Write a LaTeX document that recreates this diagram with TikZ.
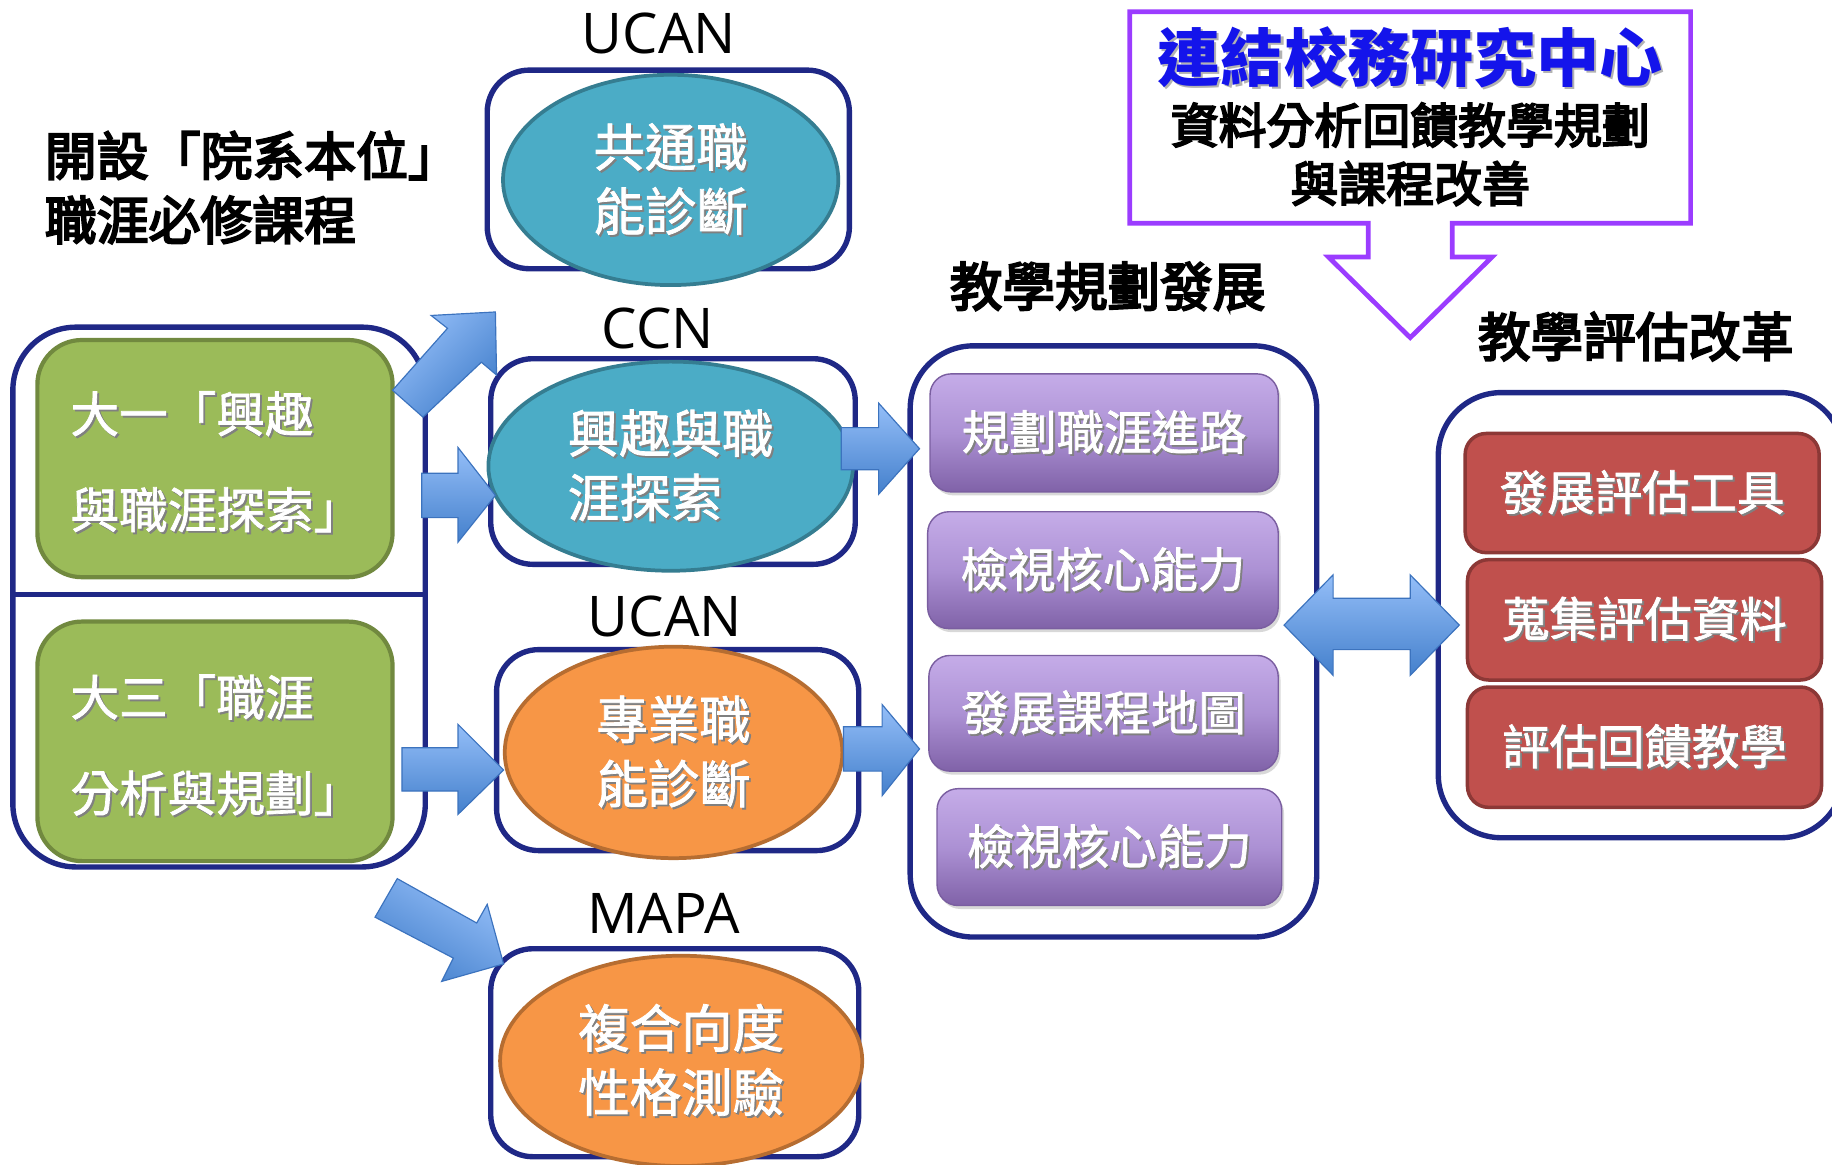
\documentclass[tikz,border=0pt]{standalone}
\usepackage{fontspec}
\setmainfont{Noto Sans CJK TC}
\newfontfamily\latinfont{Open Sans}
\newfontfamily\headfont[FakeBold=4]{Noto Sans CJK TC}
\newfontfamily\medfont[FakeBold=1.5]{Noto Sans CJK TC}
\usetikzlibrary{shapes.geometric,shadows}
\definecolor{navy}{RGB}{31,40,134}
\definecolor{tealfill}{RGB}{75,172,198}
\definecolor{tealedge}{RGB}{53,125,145}
\definecolor{orangefill}{RGB}{247,150,70}
\definecolor{orangeedge}{RGB}{182,109,49}
\definecolor{greenfill}{RGB}{155,187,89}
\definecolor{greenedge}{RGB}{113,137,63}
\definecolor{purptop}{RGB}{197,172,232}
\definecolor{purpmid}{RGB}{172,145,212}
\definecolor{purpbot}{RGB}{128,98,168}
\definecolor{purpedge}{RGB}{122,94,160}
\definecolor{redfill}{RGB}{192,80,77}
\definecolor{rededge}{RGB}{140,56,54}
\definecolor{arrlight}{RGB}{148,190,248}
\definecolor{arrdark}{RGB}{68,128,204}
\definecolor{arredge}{RGB}{60,115,190}
\definecolor{callpurple}{RGB}{155,60,255}
\definecolor{titleblue}{RGB}{20,20,235}
\newcommand\shd[1]{\leavevmode\rlap{\kern0.8pt\raisebox{-0.8pt}{\textcolor{black!50}{#1}}}#1}
\newcommand\shdl[1]{\leavevmode\rlap{\kern0.9pt\raisebox{-0.9pt}{\textcolor{black!30}{#1}}}#1}
\begin{document}
\begin{tikzpicture}[x=0.5pt,y=-0.5pt,
  navybox/.style={draw=navy, line width=2.3pt, fill=white, rounded corners=18pt, inner sep=0pt},
  bignavy/.style={navybox, rounded corners=27pt},
  tealell/.style={ellipse, draw=tealedge, fill=tealfill, line width=1.6pt, inner sep=0pt,
    text=white, font=\medfont\fontsize{22}{27.5}\selectfont},
  orangeell/.style={ellipse, draw=orangeedge, fill=orangefill, line width=1.6pt, inner sep=0pt,
    text=white, font=\medfont\fontsize{22}{27.5}\selectfont},
  greenbox/.style={draw=greenedge, fill=greenfill, line width=1.8pt, rounded corners=19pt},
  greentxt/.style={anchor=west, align=left, text=white, inner sep=0pt,
    font=\medfont\fontsize{20.8}{41}\selectfont},
  purpbox/.style={draw=purpedge, line width=0.6pt, top color=purptop, bottom color=purpbot,
    middle color=purpmid, rounded corners=9pt, text=white, font=\medfont\fontsize{20.3}{24}\selectfont,
    drop shadow={opacity=0.3, shadow xshift=1pt, shadow yshift=-1.5pt}},
  redbox/.style={draw=rededge, fill=redfill, line width=1.5pt, rounded corners=9pt,
    text=white, font=\medfont\fontsize{20.3}{24}\selectfont},
  blk/.style={draw=arredge, line width=0.5pt, top color=arrlight, bottom color=arrdark},
  latinlbl/.style={anchor=base, font=\latinfont\fontsize{24}{28}\selectfont},
  heading/.style={font=\headfont\fontsize{22.5}{27}\selectfont}
]
\useasboundingbox (0,0) rectangle (1568,997);
\clip (0,0) rectangle (1568,997);

% ---------- left group ----------
\node[bignavy, minimum width=176.5pt, minimum height=231pt] (leftbox) at (187.5,511) {};
\draw[navy, line width=2.3pt] (11,509) -- (364,509);
\node[greenbox, minimum width=152pt, minimum height=101.5pt] (green1) at (184,392.5) {};
\node[greenbox, minimum width=152pt, minimum height=102.5pt] (green2) at (184,634.5) {};
\node[greentxt] (g1txt) at (60,396) {\shd{大一「興趣}\\\shd{與職涯探索」}};
\node[greentxt] (g2txt) at (60,638.5) {\shd{大三「職涯}\\\shd{分析與規劃」}};

\node[anchor=west, align=left, inner sep=0pt, font=\headfont\fontsize{22.2}{27.5}\selectfont]
  (course) at (38,160.5) {開設「院系本位」\\職涯必修課程};

% ---------- assessment column ----------
\node[latinlbl] (lucan1) at (564,46) {UCAN};
\node[navybox, minimum width=155pt, minimum height=85pt] (u1box) at (572,145) {};
\node[tealell, minimum width=143.5pt, minimum height=90pt, align=center] (ell1) at (574,154) {\shd{共通職}\\\shd{能診斷}};

\node[latinlbl] (lccn) at (563,298) {CCN};
\node[navybox, minimum width=156pt, minimum height=88pt] (ccnbox) at (576,395) {};
\node[tealell, minimum width=156pt, minimum height=89.5pt, align=left] (ell2) at (574,399) {\shd{興趣與職}\\\shd{涯探索}};

\node[latinlbl] (lucan2) at (569,545) {UCAN};
\node[navybox, minimum width=155pt, minimum height=86pt] (u2box) at (580,642) {};
\node[orangeell, minimum width=144.5pt, minimum height=90.5pt, align=center] (ell3) at (576.5,644) {\shd{專業職}\\\shd{能診斷}};

\node[latinlbl] (lmapa) at (568,799) {MAPA};
\node[navybox, minimum width=157.5pt, minimum height=89pt] (mapabox) at (577.5,901) {};
\node[orangeell, minimum width=155pt, minimum height=90pt, align=center] (ell4) at (583,908) {\shd{複合向度}\\\shd{性格測驗}};

% ---------- middle group ----------
\node[heading] (hmid) at (948,245) {教學規劃發展};
\node[bignavy, minimum width=174pt, minimum height=253pt] (midbox) at (953,549) {};
\node[purpbox, minimum width=149pt, minimum height=50.5pt] (p1) at (945,370.5) {\shd{規劃職涯進路}};
\node[purpbox, minimum width=150pt, minimum height=50pt] (p2) at (944,488) {\shd{檢視核心能力}};
\node[purpbox, minimum width=149.5pt, minimum height=49.5pt] (p3) at (944.5,610.5) {\shd{發展課程地圖}};
\node[purpbox, minimum width=147.5pt, minimum height=50pt] (p4) at (949.5,725) {\shd{檢視核心能力}};

% ---------- right group ----------
\node[heading] (hright) at (1400,288) {教學評估改革};
\node[bignavy, minimum width=173.5pt, minimum height=190.5pt] (rightbox) at (1404.5,526.5) {};
\node[redbox, minimum width=151.5pt, minimum height=51pt] (r1) at (1405.5,422) {\shd{發展評估工具}};
\node[redbox, minimum width=151.5pt, minimum height=51.5pt] (r2) at (1407.5,530.5) {\shd{蒐集評估資料}};
\node[redbox, minimum width=151.5pt, minimum height=51.5pt] (r3) at (1407.5,639.5) {\shd{評估回饋教學}};

% ---------- callout ----------
\draw[callpurple, line width=2pt, fill=white]
  (967,10) -- (1447,10) -- (1447,191) -- (1243,191) -- (1243,220) -- (1277,220)
  -- (1207,289) -- (1137,220) -- (1171,220) -- (1171,191) -- (967,191) -- cycle;
\node[text=titleblue, font=\bfseries\fontsize{27}{32}\selectfont] (ctitle) at (1207,50) {\shdl{連結校務研究中心}};
\node[align=center, font=\headfont\fontsize{20.5}{25}\selectfont] (csub) at (1207,132) {資料分析回饋教學規劃\\與課程改善};

% ---------- block arrows ----------
\path[blk, shading angle=45] (336,334) -- (383,281) -- (369,270) -- (424,267) -- (425,321)
  -- (412,310) -- (362,357) -- cycle;
\path[blk] (361,405) -- (392,405) -- (392,383) -- (424,424) -- (392,464) -- (392,443)
  -- (361,443) -- cycle;
\path[blk] (344,640) -- (392,640) -- (392,620) -- (431,659) -- (392,697) -- (392,677)
  -- (344,677) -- cycle;
\path[blk, shading angle=-30] (340,752) -- (408,790) -- (417,774) -- (431,825) -- (378,840)
  -- (388,820) -- (321,785) -- cycle;
\path[blk] (720,366) -- (752,366) -- (752,345) -- (787,384) -- (752,423) -- (752,402)
  -- (720,402) -- cycle;
\path[blk] (722,622) -- (755,622) -- (755,603) -- (787,641) -- (755,681) -- (755,660)
  -- (722,660) -- cycle;
\path[blk] (1099,535) -- (1141,492) -- (1141,512) -- (1207,512) -- (1207,492) -- (1249,535)
  -- (1207,578) -- (1207,556) -- (1141,556) -- (1141,578) -- cycle;
\end{tikzpicture}
\end{document}
